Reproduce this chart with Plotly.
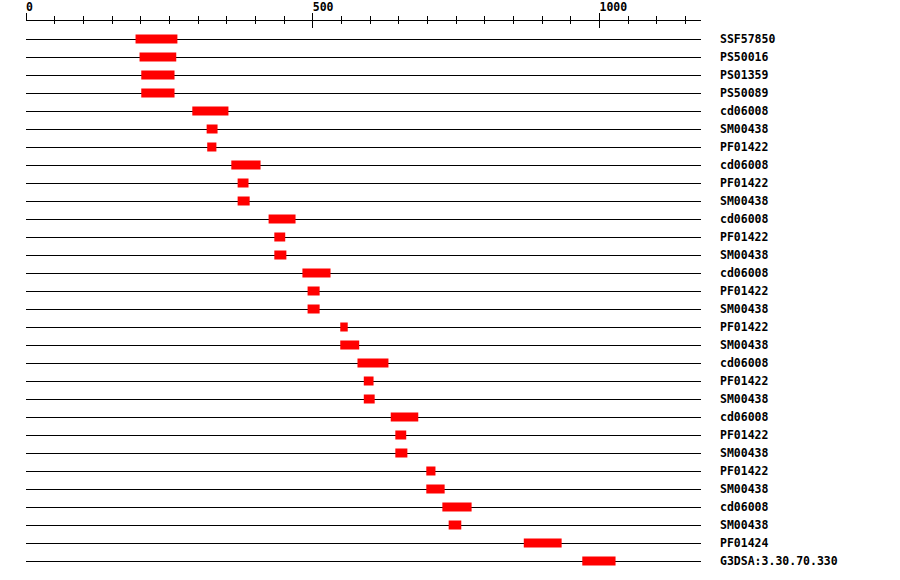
import plotly.graph_objects as go

# ---- data ----
names = ["SSF57850", "PS50016", "PS01359", "PS50089", "cd06008", "SM00438", "PF01422",
         "cd06008", "PF01422", "SM00438", "cd06008", "PF01422", "SM00438", "cd06008",
         "PF01422", "SM00438", "PF01422", "SM00438", "cd06008", "PF01422", "SM00438",
         "cd06008", "PF01422", "SM00438", "PF01422", "SM00438", "cd06008", "SM00438",
         "PF01424", "G3DSA:3.30.70.330"]
starts = [191, 198, 201, 201, 290, 315, 316, 358, 369, 369, 423, 433, 433, 482, 491, 491,
          548, 548, 578, 589, 589, 636, 644, 644, 698, 698, 726, 737, 868, 970]
ends = [264, 262, 259, 259, 353, 334, 332, 409, 388, 390, 470, 452, 454, 531, 512, 512,
        561, 581, 632, 606, 608, 684, 663, 665, 714, 730, 777, 759, 934, 1028]
seq_len = 1177
major_ticks = [0, 500, 1000]
major_labels = ["0", "500", "1000"]
minor_step = 50

rows = list(range(len(names)))
lab_font = dict(family="DejaVu Sans Mono", size=11.5, color="black", weight="bold")

fig = go.Figure()
fig.add_trace(go.Bar(
    orientation="h", y=rows, base=starts,
    x=[e - s for s, e in zip(starts, ends)],
    width=0.5, marker=dict(color="#ff0000", line=dict(width=0)),
    hoverinfo="skip", showlegend=False,
))
fig.add_trace(go.Scatter(x=[], y=[], xaxis="x2", showlegend=False))

fig.update_layout(
    width=900, height=580,
    margin=dict(l=26, r=199, t=21, b=10),
    paper_bgcolor="white", plot_bgcolor="white",
    template=None,
    showlegend=False,
    xaxis=dict(
        range=[0, seq_len], side="top", showline=True, linecolor="black", linewidth=1,
        ticks="outside", ticklen=7, tickwidth=1, tickcolor="black",
        tickvals=major_ticks, ticktext=major_labels,
        ticklabelposition="outside right", tickfont=lab_font, ticklabelstandoff=4,
        ticklabelshift=-1,
        showgrid=False, zeroline=False, fixedrange=True,
        minor=dict(dtick=minor_step, tick0=0, ticks="outside", ticklen=4,
                   tickcolor="black", tickwidth=1, showgrid=False),
    ),
    xaxis2=dict(
        range=[0, seq_len], overlaying="x", side="top", anchor="y",
        ticks="inside", ticklen=7, tickwidth=1, tickcolor="black",
        tickvals=major_ticks, showticklabels=False, showline=False,
        showgrid=False, zeroline=False, fixedrange=True,
        minor=dict(dtick=minor_step, tick0=0, ticks="inside", ticklen=3,
                   tickcolor="black", tickwidth=1, showgrid=False),
    ),
    yaxis=dict(
        range=[29.5, -1], tickvals=rows, ticktext=names, side="right",
        showgrid=True, gridcolor="black", gridwidth=1,
        ticks="", showline=False, zeroline=False,
        ticklabelstandoff=18, tickfont=lab_font, fixedrange=True,
    ),
)

fig.write_html("out.html",
               config={"displayModeBar": False, "staticPlot": True},
               post_script="document.body.style.margin='0';document.body.style.padding='0';")
